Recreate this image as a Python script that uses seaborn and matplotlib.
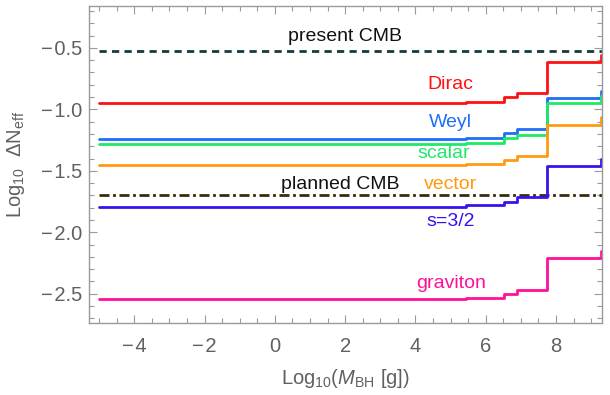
import numpy as np
import pandas as pd
import seaborn as sns
import matplotlib.pyplot as plt
from matplotlib.ticker import MultipleLocator

# step edges in Log10(M_BH [g]); each value holds until the next edge
mass_edges = [-5.0, 5.44, 6.53, 6.88, 7.74, 9.27, 9.40]

dirac = [-0.952, -0.940, -0.900, -0.866, -0.614, -0.560, -0.560]
weyl = [-1.245, -1.230, -1.196, -1.163, -0.912, -0.850, -0.850]
scalar = [-1.285, -1.270, -1.232, -1.210, -0.950, -0.890, -0.890]
vector = [-1.454, -1.443, -1.413, -1.380, -1.128, -1.060, -1.060]
spin32 = [-1.795, -1.780, -1.750, -1.717, -1.460, -1.400, -1.400]
graviton = [-2.545, -2.535, -2.500, -2.470, -2.210, -2.150, -2.150]

species = ["Dirac", "Weyl", "scalar", "vector", "s=3/2", "graviton"]
series = [dirac, weyl, scalar, vector, spin32, graviton]

present_cmb = np.log10(0.30)
planned_cmb = np.log10(0.02)
cmb_span = [-5.0, 9.40]

palette = {
    "Dirac": "#ff1010",
    "Weyl": "#1e6ff5",
    "scalar": "#20e868",
    "vector": "#ff9a10",
    "s=3/2": "#3a10ee",
    "graviton": "#ff1099",
}

rows = []
for name, vals in zip(species, series):
    for m, v in zip(mass_edges, vals):
        rows.append({"logM": m, "logN": v, "species": name})
df = pd.DataFrame(rows)

sns.set_theme(style="ticks")
plt.rcParams["font.family"] = ["Liberation Sans", "DejaVu Sans"]
plt.rcParams["mathtext.fontset"] = "custom"
plt.rcParams["mathtext.rm"] = "Liberation Sans"
plt.rcParams["mathtext.it"] = "Liberation Sans:italic"
plt.rcParams["mathtext.bf"] = "Liberation Sans:bold"

fig = plt.figure(figsize=(6.1, 3.95), dpi=100)
ax = fig.add_axes([0.1464, 0.1815, 0.8400, 0.8033])

# CMB bounds
cmb = pd.DataFrame({"logM": cmb_span * 2,
                    "logN": [present_cmb] * 2 + [planned_cmb] * 2,
                    "bound": ["present"] * 2 + ["planned"] * 2})
sns.lineplot(data=cmb[cmb.bound == "present"], x="logM", y="logN", ax=ax,
             color="#123d3a", lw=2.0, linestyle=(0, (2.6, 1.9)), legend=False)
sns.lineplot(data=cmb[cmb.bound == "planned"], x="logM", y="logN", ax=ax,
             color="#3a2a10", lw=2.0, linestyle=(0, (3.6, 1.3, 1.0, 1.3)),
             legend=False)

sns.lineplot(data=df, x="logM", y="logN", hue="species", palette=palette,
             hue_order=species, estimator=None, drawstyle="steps-post",
             lw=2.0, legend=False, ax=ax)

# curve labels
txt = dict(fontsize=14, ha="center", va="center")
ax.text(2.0, -0.405, "present CMB", color="#111111", **txt)
ax.text(1.86, -1.61, "planned CMB", color="#111111", **txt)
ax.text(5.0, -0.80, "Dirac", color=palette["Dirac"], **txt)
ax.text(5.0, -1.107, "Weyl", color=palette["Weyl"], **txt)
ax.text(4.8, -1.36, "scalar", color=palette["scalar"], **txt)
ax.text(5.0, -1.608, "vector", color=palette["vector"], **txt)
ax.text(5.0, -1.915, "s=3/2", color=palette["s=3/2"], **txt)
ax.text(5.0, -2.415, "graviton", color=palette["graviton"], **txt)

ax.set_xlim(-5.28, 9.30)
ax.set_ylim(-2.74, -0.16)
ax.xaxis.set_major_locator(MultipleLocator(2))
ax.xaxis.set_minor_locator(MultipleLocator(0.5))
ax.yaxis.set_major_locator(MultipleLocator(0.5))
ax.yaxis.set_minor_locator(MultipleLocator(0.1))
ax.xaxis.set_major_formatter(lambda v, p: f"{v:.0f}".replace("-", "\u2212\u200a"))
ax.yaxis.set_major_formatter(lambda v, p: f"{v:.1f}".replace("-", "\u2212\u200a"))

grey = "#9a9a9a"
for s in ax.spines.values():
    s.set_visible(True)
    s.set_color(grey)
    s.set_linewidth(1.0)
ax.tick_params(which="both", direction="in", top=True, right=True,
               color=grey, width=0.8, labelcolor="#606060", labelsize=14.5)
ax.tick_params(which="major", length=6, pad=10)
ax.tick_params(which="minor", length=3.5)
ax.tick_params(axis="y", which="major", pad=5)

ax.set_xlabel(r"Log$_{10}$($M_{\rm BH}$ [g])", fontsize=14.5, color="#606060",
              labelpad=8)
ax.set_ylabel(r"Log$_{10}$  $\Delta$N$_{\rm eff}$", fontsize=14.5,
              color="#606060", labelpad=10)

fig.savefig("out.png", dpi=100)
